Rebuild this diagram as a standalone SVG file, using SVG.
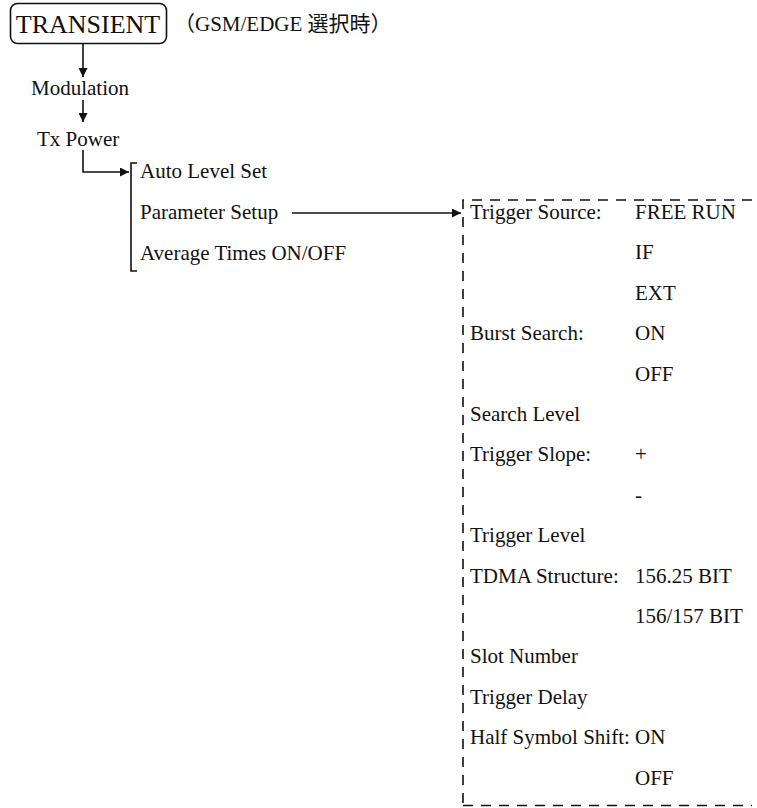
<svg xmlns="http://www.w3.org/2000/svg" width="757" height="808" viewBox="0 0 757 808">
<style>
text{font-family:"Liberation Serif","DejaVu Serif","Times New Roman",serif;font-size:21px;fill:#111}
text.big{font-size:26px}
text.cjk{font-family:"Liberation Serif","Noto Sans CJK JP",serif;font-size:21px}
.ln{stroke:#111;stroke-width:1.6;fill:none}
.dash{stroke:#111;stroke-width:1.6;fill:none;stroke-dasharray:10 8}
</style>
<defs>
<marker id="ah" viewBox="0 0 10 10" refX="10" refY="5" markerWidth="9" markerHeight="9" markerUnits="userSpaceOnUse" orient="auto"><path d="M0,0 L10,5 L0,10 z" fill="#111"/></marker>
</defs>
<rect width="757" height="808" fill="#fff"/>
<g id="transient">
<rect x="10.5" y="3.5" width="156" height="40" rx="7" class="ln" stroke-width="2"/>
<text class="big" x="88" y="33" text-anchor="middle">TRANSIENT</text>
</g>
<g id="note"><text class="cjk" x="174" y="31">（GSM/EDGE 選択時）</text></g>
<g id="modulation"><text x="80" y="95" text-anchor="middle">Modulation</text></g>
<g id="txpower"><text x="37" y="146">Tx Power</text></g>
<g id="menu1">
<text x="140" y="178">Auto Level Set</text>
<text x="140" y="219">Parameter Setup</text>
<text x="140" y="260">Average Times ON/OFF</text>
</g>
<g id="menu2">
<text x="470" y="219">Trigger Source:</text><text x="635" y="219">FREE RUN</text>
<text x="635" y="259.4">IF</text>
<text x="635" y="299.8">EXT</text>
<text x="470" y="340.2">Burst Search:</text><text x="635" y="340.2">ON</text>
<text x="635" y="380.6">OFF</text>
<text x="470" y="421">Search Level</text>
<text x="470" y="461.4">Trigger Slope:</text><text x="635" y="461.4">+</text>
<text x="635" y="501.8">-</text>
<text x="470" y="542.2">Trigger Level</text>
<text x="470" y="582.6">TDMA Structure:</text><text x="635" y="582.6">156.25 BIT</text>
<text x="635" y="623">156/157 BIT</text>
<text x="470" y="663.4">Slot Number</text>
<text x="470" y="703.8">Trigger Delay</text>
<text x="470" y="744.2">Half Symbol Shift:</text><text x="635" y="744.2">ON</text>
<text x="635" y="784.6">OFF</text>
</g>
<g id="connectors">
<line x1="83" y1="44" x2="83" y2="77" class="ln" marker-end="url(#ah)"/>
<line x1="83" y1="100" x2="83" y2="122" class="ln" marker-end="url(#ah)"/>
<polyline points="83,150 83,172 129,172" class="ln" marker-end="url(#ah)"/>
<polyline points="137,163 131,163 131,271 137,271" class="ln"/>
<line x1="292" y1="213" x2="461" y2="213" class="ln" marker-end="url(#ah)"/>
<path d="M752,200 H463 V805" class="dash"/>
<path d="M463,805.5 H752" class="dash" stroke="#bbb"/>
</g>
</svg>
